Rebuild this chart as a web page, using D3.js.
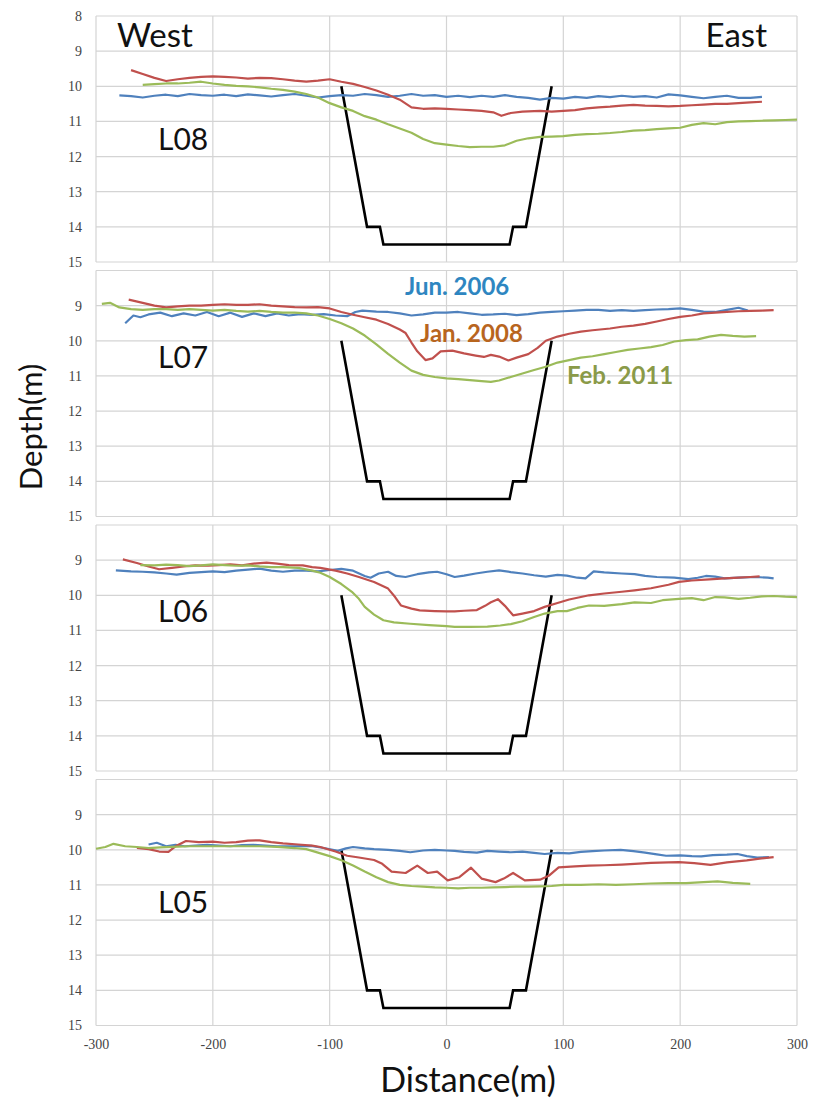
<!DOCTYPE html>
<html>
<head>
<meta charset="utf-8">
<script src="https://cdn.jsdelivr.net/npm/d3@7"></script>
<style>
  html, body { margin: 0; padding: 0; background: #fff; }
  svg { display: block; }
</style>
</head>
<body>
<div id="chart"></div>
<script>
// depth profiles across the channel, one panel per survey line
const panelNames = ['L08', 'L07', 'L06', 'L05'];
const seriesNames = ['Jun. 2006', 'Jan. 2008', 'Feb. 2011'];
const xTicks = [-300, -200, -100, 0, 100, 200, 300];
const yTicks = [8, 9, 10, 11, 12, 13, 14, 15];

// design section of the channel (distance, depth)
const trenchDist = [-90, -68, -57, -54, 54, 57, 68, 90];
const trenchDepth = [10, 14, 14, 14.5, 14.5, 14, 14, 10];

const L08_jun2006 = [[-280,10.26],[-270,10.28],[-260,10.32],[-250,10.27],[-240,10.24],[-230,10.28],[-220,10.22],[-210,10.25],[-200,10.27],[-190,10.24],[-180,10.28],[-170,10.23],[-160,10.26],[-150,10.29],[-140,10.25],[-130,10.22],[-120,10.27],[-110,10.32],[-100,10.28],[-90,10.25],[-80,10.27],[-70,10.22],[-60,10.25],[-50,10.3],[-40,10.27],[-30,10.22],[-20,10.27],[-10,10.25],[0,10.3],[10,10.27],[20,10.31],[30,10.27],[40,10.3],[50,10.25],[60,10.3],[70,10.33],[80,10.38],[90,10.33],[100,10.35],[110,10.3],[120,10.33],[130,10.28],[140,10.31],[150,10.27],[160,10.3],[170,10.28],[180,10.32],[190,10.23],[200,10.26],[210,10.3],[220,10.34],[230,10.3],[240,10.27],[250,10.33],[260,10.33],[270,10.3]];
const L08_jan2008 = [[-270,9.54],[-260,9.65],[-250,9.76],[-240,9.85],[-230,9.8],[-220,9.76],[-210,9.73],[-200,9.72],[-190,9.73],[-180,9.75],[-170,9.78],[-160,9.76],[-150,9.77],[-140,9.8],[-130,9.84],[-120,9.87],[-110,9.84],[-100,9.8],[-90,9.87],[-80,9.93],[-70,10.02],[-60,10.12],[-50,10.24],[-40,10.38],[-30,10.6],[-20,10.64],[-10,10.63],[0,10.64],[10,10.66],[20,10.68],[30,10.7],[40,10.74],[47,10.84],[55,10.76],[65,10.72],[80,10.7],[90,10.72],[100,10.7],[110,10.68],[120,10.63],[130,10.6],[140,10.58],[150,10.55],[160,10.53],[170,10.55],[180,10.56],[190,10.57],[200,10.56],[210,10.54],[220,10.52],[230,10.5],[240,10.5],[250,10.48],[260,10.46],[270,10.44]];
const L08_feb2011 = [[-260,9.96],[-250,9.94],[-240,9.92],[-230,9.92],[-220,9.9],[-210,9.87],[-200,9.92],[-190,9.96],[-180,9.99],[-170,10.0],[-160,10.03],[-150,10.07],[-140,10.1],[-130,10.15],[-120,10.22],[-110,10.32],[-100,10.48],[-90,10.6],[-80,10.7],[-70,10.85],[-60,10.95],[-50,11.08],[-40,11.2],[-30,11.32],[-20,11.5],[-10,11.62],[0,11.66],[10,11.7],[20,11.73],[30,11.72],[40,11.72],[50,11.68],[60,11.55],[70,11.48],[80,11.44],[90,11.43],[100,11.42],[110,11.38],[120,11.36],[130,11.35],[140,11.33],[150,11.3],[160,11.26],[170,11.25],[180,11.22],[190,11.2],[200,11.18],[210,11.1],[220,11.05],[230,11.08],[240,11.02],[250,11.0],[260,10.99],[270,10.98],[280,10.97],[290,10.96],[300,10.95]];

const L07_jun2006 = [[-275,9.5],[-268,9.28],[-262,9.33],[-255,9.25],[-245,9.2],[-235,9.3],[-225,9.22],[-215,9.28],[-205,9.18],[-195,9.3],[-185,9.2],[-175,9.32],[-165,9.22],[-155,9.3],[-145,9.22],[-135,9.28],[-125,9.24],[-115,9.26],[-105,9.24],[-95,9.28],[-85,9.3],[-78,9.18],[-72,9.14],[-60,9.17],[-50,9.18],[-40,9.22],[-30,9.28],[-20,9.25],[-10,9.2],[0,9.2],[10,9.18],[20,9.22],[30,9.26],[40,9.25],[50,9.23],[60,9.27],[70,9.24],[80,9.2],[90,9.18],[100,9.16],[110,9.14],[120,9.12],[130,9.12],[140,9.15],[150,9.13],[160,9.15],[170,9.13],[180,9.11],[190,9.1],[200,9.08],[210,9.12],[220,9.17],[230,9.18],[240,9.12],[250,9.06],[258,9.14]];
const L07_jan2008 = [[-272,8.83],[-260,8.92],[-250,9.0],[-240,9.05],[-230,9.02],[-220,9.0],[-210,9.0],[-200,8.98],[-190,8.96],[-180,8.98],[-170,8.98],[-160,8.96],[-150,9.0],[-140,9.02],[-130,9.04],[-120,9.05],[-110,9.04],[-100,9.08],[-90,9.18],[-80,9.26],[-70,9.33],[-60,9.4],[-50,9.52],[-40,9.68],[-35,9.78],[-30,10.05],[-25,10.3],[-18,10.55],[-12,10.5],[-5,10.3],[5,10.28],[15,10.36],[25,10.42],[32,10.46],[38,10.4],[45,10.45],[53,10.56],[60,10.48],[70,10.38],[78,10.2],[85,10.0],[95,9.88],[105,9.8],[115,9.74],[125,9.7],[140,9.65],[150,9.6],[160,9.57],[170,9.52],[180,9.45],[190,9.38],[200,9.32],[210,9.28],[220,9.22],[230,9.2],[240,9.18],[250,9.16],[260,9.15],[270,9.14],[280,9.13]];
const L07_feb2011 = [[-295,8.95],[-288,8.92],[-280,9.05],[-270,9.1],[-260,9.12],[-250,9.1],[-240,9.1],[-230,9.12],[-220,9.1],[-210,9.12],[-200,9.14],[-190,9.12],[-180,9.15],[-170,9.17],[-160,9.15],[-150,9.18],[-140,9.2],[-130,9.2],[-120,9.22],[-110,9.28],[-100,9.38],[-90,9.5],[-80,9.65],[-70,9.85],[-60,10.1],[-50,10.37],[-40,10.62],[-30,10.85],[-20,10.97],[-10,11.03],[0,11.07],[10,11.09],[20,11.12],[30,11.15],[38,11.17],[45,11.13],[55,11.03],[65,10.93],[75,10.83],[85,10.74],[95,10.62],[105,10.55],[115,10.48],[125,10.44],[135,10.38],[145,10.32],[155,10.26],[165,10.22],[175,10.18],[185,10.12],[195,10.02],[205,9.98],[215,9.96],[225,9.88],[235,9.83],[245,9.86],[255,9.88],[265,9.87]];

const L06_jun2006 = [[-283,9.29],[-270,9.32],[-260,9.33],[-250,9.35],[-240,9.38],[-231,9.41],[-220,9.36],[-210,9.34],[-200,9.32],[-190,9.34],[-180,9.3],[-170,9.27],[-160,9.24],[-150,9.3],[-140,9.33],[-130,9.3],[-120,9.3],[-110,9.32],[-100,9.28],[-90,9.25],[-80,9.3],[-70,9.45],[-65,9.5],[-58,9.38],[-50,9.33],[-43,9.45],[-35,9.48],[-25,9.4],[-15,9.35],[-8,9.33],[0,9.4],[7,9.48],[15,9.44],[25,9.38],[35,9.33],[45,9.29],[55,9.34],[65,9.38],[75,9.43],[85,9.47],[95,9.42],[103,9.44],[112,9.5],[119,9.52],[126,9.32],[135,9.35],[150,9.38],[161,9.4],[170,9.45],[180,9.48],[195,9.5],[207,9.54],[215,9.5],[222,9.45],[230,9.47],[238,9.52],[250,9.5],[265,9.48],[275,9.5],[280,9.52]];
const L06_jan2008 = [[-277,8.98],[-265,9.08],[-255,9.18],[-246,9.26],[-235,9.22],[-225,9.18],[-215,9.15],[-204,9.16],[-195,9.14],[-185,9.12],[-175,9.15],[-165,9.1],[-154,9.07],[-145,9.1],[-135,9.14],[-123,9.15],[-115,9.2],[-108,9.22],[-95,9.3],[-85,9.38],[-75,9.48],[-62,9.62],[-50,9.81],[-44,10.05],[-39,10.29],[-30,10.38],[-23,10.43],[-10,10.45],[0,10.46],[7,10.46],[15,10.44],[26,10.42],[33,10.3],[38,10.2],[44,10.11],[50,10.3],[57,10.57],[65,10.52],[75,10.45],[84,10.33],[95,10.22],[105,10.12],[115,10.05],[122,10.0],[135,9.95],[150,9.9],[161,9.86],[175,9.8],[190,9.7],[199,9.62],[210,9.58],[225,9.55],[238,9.52],[250,9.5],[260,9.48],[268,9.46]];
const L06_feb2011 = [[-262,9.14],[-250,9.15],[-240,9.13],[-230,9.14],[-220,9.17],[-210,9.15],[-200,9.12],[-190,9.14],[-180,9.16],[-170,9.15],[-160,9.18],[-150,9.2],[-140,9.2],[-127,9.22],[-115,9.3],[-108,9.36],[-100,9.48],[-90,9.68],[-81,9.9],[-75,10.1],[-70,10.33],[-62,10.55],[-54,10.71],[-45,10.77],[-31,10.81],[-15,10.85],[0,10.88],[7,10.9],[20,10.9],[35,10.89],[46,10.86],[55,10.82],[65,10.74],[75,10.62],[84,10.52],[95,10.45],[103,10.45],[112,10.36],[122,10.29],[135,10.3],[150,10.25],[161,10.2],[175,10.22],[185,10.14],[199,10.1],[210,10.08],[220,10.14],[230,10.05],[238,10.06],[250,10.1],[260,10.07],[270,10.03],[280,10.02],[290,10.04],[300,10.05]];

const L05_jun2006 = [[-255,9.85],[-248,9.8],[-240,9.9],[-232,9.86],[-224,9.9],[-215,9.88],[-205,9.86],[-195,9.88],[-185,9.9],[-175,9.87],[-165,9.86],[-155,9.88],[-145,9.9],[-130,9.9],[-116,9.89],[-105,9.95],[-93,10.03],[-86,9.96],[-80,9.92],[-70,9.96],[-62,9.98],[-50,10.0],[-40,10.03],[-31,10.07],[-20,10.02],[-10,10.0],[0,10.02],[7,10.03],[15,10.06],[26,10.08],[35,10.03],[45,10.05],[55,10.07],[65,10.05],[75,10.09],[84,10.12],[95,10.09],[105,10.1],[115,10.06],[125,10.04],[135,10.02],[149,10.0],[160,10.04],[170,10.08],[180,10.13],[188,10.17],[200,10.16],[210,10.18],[218,10.19],[228,10.15],[240,10.14],[249,10.12],[257,10.18],[266,10.22],[276,10.21]];
const L05_jan2008 = [[-265,9.95],[-255,9.98],[-246,10.05],[-238,10.06],[-232,9.9],[-223,9.75],[-212,9.78],[-200,9.77],[-190,9.8],[-180,9.78],[-170,9.74],[-160,9.73],[-150,9.78],[-140,9.82],[-127,9.85],[-115,9.88],[-108,9.92],[-95,10.05],[-85,10.17],[-75,10.22],[-62,10.29],[-55,10.4],[-47,10.62],[-35,10.66],[-25,10.45],[-16,10.66],[-8,10.62],[1,10.87],[11,10.78],[21,10.51],[30,10.82],[42,10.92],[49,10.82],[57,10.66],[67,10.87],[80,10.85],[88,10.73],[96,10.5],[110,10.47],[122,10.45],[135,10.44],[150,10.42],[161,10.4],[175,10.37],[190,10.36],[199,10.35],[212,10.38],[226,10.43],[240,10.36],[257,10.3],[268,10.25],[280,10.21]];
const L05_feb2011 = [[-300,9.97],[-292,9.92],[-285,9.83],[-275,9.9],[-265,9.92],[-255,9.95],[-245,9.93],[-235,9.92],[-220,9.9],[-205,9.9],[-190,9.9],[-175,9.9],[-160,9.9],[-145,9.92],[-130,9.95],[-120,9.98],[-110,10.08],[-100,10.18],[-90,10.3],[-80,10.45],[-70,10.62],[-60,10.78],[-50,10.92],[-40,11.0],[-30,11.03],[-20,11.05],[-10,11.07],[0,11.08],[10,11.1],[20,11.08],[30,11.08],[40,11.07],[50,11.06],[60,11.05],[70,11.05],[80,11.04],[90,11.03],[100,11.0],[115,11.0],[130,10.98],[145,11.0],[160,10.98],[175,10.96],[190,10.95],[205,10.95],[220,10.92],[232,10.9],[245,10.94],[260,10.97]];

const panelSeries = [
  [L08_jun2006, L08_jan2008, L08_feb2011],
  [L07_jun2006, L07_jan2008, L07_feb2011],
  [L06_jun2006, L06_jan2008, L06_feb2011],
  [L05_jun2006, L05_jan2008, L05_feb2011]
];

const W = 813, H = 1100;
const left = 96, right = 797;
const panelTop = 16, panelStep = 254.5, panelH = 246;

const lineColors = ['#4f81bd', '#c0504d', '#9bbb59'];
const labelColors = ['#2e86c1', '#b8651e', '#8a9a48'];
const serif = '"Liberation Serif", "DejaVu Serif", serif';
const sans = 'Lato, "Open Sans", sans-serif';

// panel name position (depth) - the two middle panels carry it higher
const nameDepth = [11.8, 10.78, 10.76, 11.8];

const svg = d3.select('#chart').append('svg')
  .attr('width', W)
  .attr('height', H);

const x = d3.scaleLinear().domain([-300, 300]).range([left, right]);

panelNames.forEach((name, i) => {
  const top = panelTop + i * panelStep;
  const y = d3.scaleLinear().domain([8, 15]).range([top, top + panelH]);
  const g = svg.append('g').attr('class', 'panel');

  // grid
  g.append('g')
    .selectAll('line')
    .data(yTicks)
    .enter().append('line')
    .attr('x1', left).attr('x2', right)
    .attr('y1', d => y(d)).attr('y2', d => y(d))
    .attr('stroke', '#d4d4d4').attr('stroke-width', 1.2);

  g.append('g')
    .selectAll('line')
    .data(xTicks)
    .enter().append('line')
    .attr('x1', d => x(d)).attr('x2', d => x(d))
    .attr('y1', top).attr('y2', top + panelH)
    .attr('stroke', '#d4d4d4').attr('stroke-width', 1.2);

  // y tick labels (top panel is the only one showing 8)
  const yAxis = d3.axisLeft(y)
    .tickValues(i === 0 ? yTicks : yTicks.slice(1))
    .tickSize(0)
    .tickPadding(14)
    .tickFormat(d => String(d));
  const ya = g.append('g').attr('transform', `translate(${left},0)`).call(yAxis);
  ya.select('.domain').remove();
  ya.selectAll('text')
    .attr('font-family', serif)
    .attr('font-size', '14px')
    .attr('fill', '#444');

  // trench outline
  const trench = d3.line().x(d => x(d[0])).y(d => y(d[1]));
  g.append('path')
    .datum(d3.zip(trenchDist, trenchDepth))
    .attr('fill', 'none')
    .attr('stroke', '#000')
    .attr('stroke-width', 2.6)
    .attr('d', trench);

  // survey profiles
  const line = d3.line().x(d => x(d[0])).y(d => y(d[1]));
  g.append('g')
    .selectAll('path')
    .data(panelSeries[i])
    .enter().append('path')
    .attr('fill', 'none')
    .attr('stroke', (d, k) => lineColors[k])
    .attr('stroke-width', 2.2)
    .attr('stroke-linejoin', 'round')
    .attr('d', line);

  g.append('text')
    .attr('x', 158)
    .attr('y', y(nameDepth[i]))
    .attr('font-family', sans)
    .attr('font-size', '30px')
    .attr('fill', '#111')
    .text(name);
});

// x tick labels under the last panel
const xAxis = d3.axisBottom(x).tickValues(xTicks).tickSize(0).tickPadding(14)
  .tickFormat(d => String(d));
const xa = svg.append('g')
  .attr('transform', `translate(0,${panelTop + 3 * panelStep + panelH})`)
  .call(xAxis);
xa.select('.domain').remove();
xa.selectAll('text')
  .attr('font-family', serif)
  .attr('font-size', '14px')
  .attr('fill', '#444');

// legend labels written inside the L07 panel
const l07top = panelTop + panelStep;
const yL07 = d3.scaleLinear().domain([8, 15]).range([l07top, l07top + panelH]);
const legendPos = [[405, 8.70], [420, 10.03], [567, 11.23]];
svg.append('g')
  .selectAll('text')
  .data(seriesNames)
  .enter().append('text')
  .attr('x', (d, k) => legendPos[k][0])
  .attr('y', (d, k) => yL07(legendPos[k][1]))
  .attr('font-family', sans)
  .attr('font-weight', 'bold')
  .attr('font-size', '24px')
  .attr('fill', (d, k) => labelColors[k])
  .text(d => d);

svg.append('text')
  .attr('x', 117).attr('y', 47)
  .attr('font-family', sans).attr('font-size', '33px').attr('fill', '#111')
  .text('West');
svg.append('text')
  .attr('x', 767).attr('y', 47)
  .attr('text-anchor', 'end')
  .attr('font-family', sans).attr('font-size', '33px').attr('fill', '#111')
  .text('East');

svg.append('text')
  .attr('x', 468).attr('y', 1092)
  .attr('text-anchor', 'middle')
  .attr('font-family', sans).attr('font-size', '34px').attr('fill', '#111')
  .text('Distance(m)');

svg.append('text')
  .attr('transform', 'translate(42,427) rotate(-90)')
  .attr('text-anchor', 'middle')
  .attr('font-family', sans).attr('font-size', '31px').attr('fill', '#111')
  .text('Depth(m)');
</script>
</body>
</html>
